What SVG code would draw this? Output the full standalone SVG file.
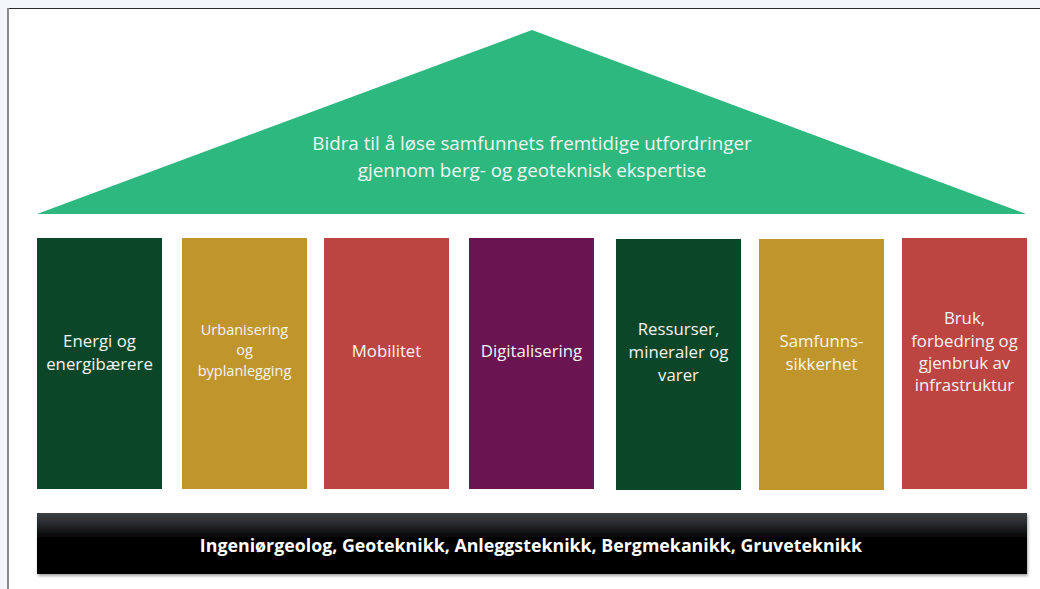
<svg xmlns="http://www.w3.org/2000/svg" width="1040" height="589" viewBox="0 0 1040 589">
<defs>
<style>
.t{font-family:"Open Sans","Noto Sans","Liberation Sans",sans-serif;fill:#f4f4f4;text-anchor:middle}
.c{font-size:16.8px}
.s{font-size:14.5px}
.h{font-size:18.8px}
.b{font-size:17.8px;font-weight:bold;fill:#ffffff}
</style>
<linearGradient id="bar" x1="0" y1="0" x2="0" y2="1">
<stop offset="0" stop-color="#3d4043"/>
<stop offset="0.15" stop-color="#2b2e31"/>
<stop offset="0.4" stop-color="#040506"/>
<stop offset="1" stop-color="#000000"/>
</linearGradient>
<filter id="sh" x="-5%" y="-20%" width="110%" height="150%">
<feDropShadow dx="1" dy="2" stdDeviation="1.8" flood-color="#000" flood-opacity="0.35"/>
</filter>
</defs>
<rect x="0" y="0" width="1040" height="589" fill="#f3f7fa"/>
<rect x="9" y="9" width="1031" height="580" fill="#ffffff"/>
<line x1="7" y1="8.5" x2="1040" y2="8.5" stroke="#2b2b2b" stroke-width="1.2"/>
<line x1="8" y1="8" x2="8" y2="589" stroke="#8a8a8a" stroke-width="2"/>

<g id="roof">
<polygon points="37,214 532,30 1026,214" fill="#2db87f"/>
<text class="t h" x="532" y="149.5">Bidra til å løse samfunnets fremtidige utfordringer</text>
<text class="t h" x="532" y="176.5">gjennom berg- og geoteknisk ekspertise</text>
</g>

<g id="col1">
<rect x="37" y="238" width="125" height="251" fill="#0b4629"/>
<text class="t c" x="99.5" y="347">Energi og</text>
<text class="t c" x="99.5" y="370">energibærere</text>
</g>
<g id="col2">
<rect x="182" y="238" width="125" height="251" fill="#c0962c"/>
<text class="t s" x="244.5" y="335">Urbanisering</text>
<text class="t s" x="244.5" y="355">og</text>
<text class="t s" x="244.5" y="376">byplanlegging</text>
</g>
<g id="col3">
<rect x="324" y="238" width="125" height="251" fill="#bc4542"/>
<text class="t c" x="386.5" y="357">Mobilitet</text>
</g>
<g id="col4">
<rect x="469" y="238" width="125" height="251" fill="#6b1452"/>
<text class="t c" x="531.5" y="357">Digitalisering</text>
</g>
<g id="col5">
<rect x="616" y="239" width="125" height="251" fill="#0b4629"/>
<text class="t c" x="678.5" y="335">Ressurser,</text>
<text class="t c" x="678.5" y="358">mineraler og</text>
<text class="t c" x="678.5" y="381">varer</text>
</g>
<g id="col6">
<rect x="759" y="239" width="125" height="251" fill="#c0962c"/>
<text class="t c" x="821.5" y="347">Samfunns-</text>
<text class="t c" x="821.5" y="370">sikkerhet</text>
</g>
<g id="col7">
<rect x="902" y="238" width="125" height="251" fill="#bc4542"/>
<text class="t c" x="964.5" y="324">Bruk,</text>
<text class="t c" x="964.5" y="347">forbedring og</text>
<text class="t c" x="964.5" y="369">gjenbruk av</text>
<text class="t c" x="964.5" y="391">infrastruktur</text>
</g>

<g id="base">
<rect x="37" y="513" width="990" height="61" fill="url(#bar)" filter="url(#sh)"/>
<text class="t b" x="531" y="551.5">Ingeniørgeolog, Geoteknikk, Anleggsteknikk, Bergmekanikk, Gruveteknikk</text>
</g>
<g id="connectors"/>
</svg>
